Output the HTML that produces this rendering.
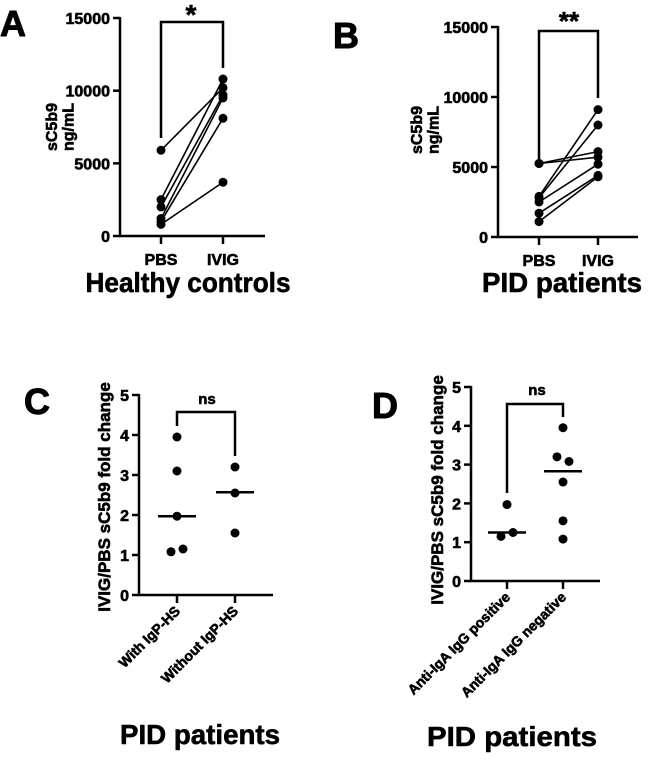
<!DOCTYPE html>
<html><head><meta charset="utf-8">
<style>
html,body{margin:0;padding:0;background:#fff;}
svg{display:block;font-family:"Liberation Sans",Arial,sans-serif;}
text{font-weight:700;fill:#000;}
</style></head>
<body>
<svg id="fig" width="649" height="765" viewBox="0 0 649 765" xmlns="http://www.w3.org/2000/svg">
<g id="root"></g>
</svg>
<script>
// Panel A data (Healthy controls)
const aCategories = ["PBS", "IVIG"];
const aPBS = [5900, 2500, 2000, 1200, 1000, 800];
const aIVIG = [10200, 10800, 9700, 9500, 8100, 3700];
const aTicks = [0, 5000, 10000, 15000];
// Panel B data (PID patients)
const bCategories = ["PBS", "IVIG"];
const bPBS = [5250, 5250, 2900, 2800, 2500, 1700, 1100];
const bIVIG = [6100, 5700, 9100, 8000, 5200, 4400, 4300];
const bTicks = [0, 5000, 10000, 15000];
// Panel C data
const cCategories = ["With IgP-HS", "Without IgP-HS"];
const cGroup1 = [3.95, 3.1, 1.97, 1.15, 1.08];
const cGroup1Jitter = [0, 0, 0, 1, -1];
const cGroup2 = [3.2, 2.55, 1.55];
const cGroup2Jitter = [0, 0, 0];
const cMedians = [1.97, 2.57];
const foldTicks = [0, 1, 2, 3, 4, 5];
// Panel D data
const dCategories = ["Anti-IgA IgG positive", "Anti-IgA IgG negative"];
const dGroup1 = [1.97, 1.25, 1.15];
const dGroup1Jitter = [0, 1, -1];
const dGroup2 = [3.95, 3.2, 3.08, 2.55, 1.55, 1.08];
const dGroup2Jitter = [0, -1, 1, 0, 0, 0];
const dMedians = [1.25, 2.83];

const NS = "http://www.w3.org/2000/svg";
const root = document.getElementById("root");
function mk(tag, attrs, parent) {
  const el = document.createElementNS(NS, tag);
  for (const k in attrs) el.setAttribute(k, attrs[k]);
  (parent || root).appendChild(el);
  return el;
}
function txt(s, attrs, parent) {
  attrs["font-weight"] = "bold";
  attrs["stroke"] = "#000";
  if (!attrs["stroke-width"]) attrs["stroke-width"] = 0.6;
  attrs["stroke-linejoin"] = "round";
  const t = mk("text", attrs, parent); t.textContent = s; return t;
}

function axes(g, p) {
  const ys = v => p.y0 - (v - p.min) / (p.max - p.min) * (p.y0 - p.y1);
  const yAxis = mk("line", {x1:p.x0, y1:p.y1-1, x2:p.x0, y2:p.y0+1, stroke:"#000","stroke-width":2.5}, g);
  
  
  const xAxis = mk("line", {x1:p.x0-1, y1:p.y0, x2:p.xEnd, y2:p.y0, stroke:"#000","stroke-width":2.5}, g);
  
  
  p.ticks.forEach(t => {
    mk("line", {x1:p.x0-7, y1:ys(t), x2:p.x0, y2:ys(t), stroke:"#000","stroke-width":2.5}, g);
    const tl = txt(String(t), {x:p.x0-10, y:ys(t)+6, "text-anchor":"end","font-size":p.tickFont}, g);
    
    
  });
  p.cx.forEach(x => mk("line", {x1:x, y1:p.y0, x2:x, y2:p.y0+8, stroke:"#000","stroke-width":2.5}, g));
  return ys;
}
function dot(g, x, y) {
  const c = mk("circle", {cx:x, cy:y, r:4.5, fill:"#000"}, g);
  
  
}
function bracket(g, xl, xr, top, yl, yr, label, lx, ly, fs) {
  const b = mk("polyline", {points:`${xl},${yl} ${xl},${top} ${xr},${top} ${xr},${yr}`, fill:"none", stroke:"#000","stroke-width":2.5}, g);
  
  
  const t = txt(label, {x:lx, y:ly, "text-anchor":"middle","font-size":fs}, g);
  
  
}
function letter(s, x, y) {
  const t = txt(s, {x:x, y:y, "font-size":36, "stroke-width":1.0});
  
  
}
function title(s, cx, y, w, name) {
  const t = txt(s, {x:cx, y:y, "text-anchor":"middle","font-size":28, "stroke-width":0.6, textLength:w, lengthAdjust:"spacingAndGlyphs"});
  
  
}
function ytitle(lines, cx, cy, fs, name) {
  const t = mk("text", {transform:`translate(${cx},${cy}) rotate(-90)`, "text-anchor":"middle","font-size":fs, "font-weight":"bold", stroke:"#000", "stroke-width":0.6});
  
  
  lines.forEach((l, i) => {
    const ts = mk("tspan", {x:0, dy: i === 0 ? (-(lines.length-1)*fs*0.55 + fs*0.35) : fs*1.05}, t);
    ts.textContent = l;
  });
}

function paired(name, p, pbs, ivig, cats) {
  const g = mk("g", {});
  
  
  const ys = axes(g, p);
  pbs.forEach((v, i) => {
    const l = mk("line", {x1:p.cx[0], y1:ys(v), x2:p.cx[1], y2:ys(ivig[i]), stroke:"#000","stroke-width":1.6}, g);
    
    
  });
  pbs.forEach(v => dot(g, p.cx[0], ys(v)));
  ivig.forEach(v => dot(g, p.cx[1], ys(v)));
  cats.forEach((c, i) => {
    const t = txt(c, {x:p.cx[i], y:p.y0+29, "text-anchor":"middle","font-size":16}, g);
    
    
  });
  return ys;
}
function scatter(name, p, groups, jitters, medians, cats) {
  const g = mk("g", {});
  
  
  const ys = axes(g, p);
  groups.forEach((arr, gi) => {
    arr.forEach((v, i) => dot(g, p.cx[gi] + jitters[gi][i]*6, ys(v)));
    const m = mk("line", {x1:p.cx[gi]-19, y1:ys(medians[gi]), x2:p.cx[gi]+19, y2:ys(medians[gi]), stroke:"#000","stroke-width":2.5}, g);
    
    
  });
  cats.forEach((c, i) => {
    const t = txt(c, {transform:`translate(${p.cx[i]+4},${p.y0+17}) rotate(-45)`, "text-anchor":"end","font-size":14}, g);
    
    
  });
  return ys;
}

// Panel A
const pA = {x0:120, xEnd:265, y0:236, y1:18, min:0, max:15000, ticks:aTicks, cx:[161,223], tickFont:16};
paired("panel-a-chart", pA, aPBS, aIVIG, aCategories);
bracket(root, 161, 223, 22, 138, 68, "*", 191, 24, 28);
letter("A", 0, 36);
ytitle(["sC5b9", "ng/mL"], 60, 127, 16, "y-axis-title-a");
title("Healthy controls", 188, 292, 205, "title-healthy-controls");

// Panel B
const pB = {x0:498, xEnd:638, y0:237, y1:27, min:0, max:15000, ticks:bTicks, cx:[539,598], tickFont:16};
paired("panel-b-chart", pB, bPBS, bIVIG, bCategories);
bracket(root, 539, 598, 31, 160, 98, "**", 569, 30, 26);
letter("B", 333, 48);
ytitle(["sC5b9", "ng/mL"], 425, 130, 16, "y-axis-title-b");
title("PID patients", 562, 292, 160, "title-pid-patients-b");

// Panel C
const pC = {x0:139, xEnd:273, y0:595, y1:395, min:0, max:5, ticks:foldTicks, cx:[177,235], tickFont:16};
scatter("panel-c-chart", pC, [cGroup1, cGroup2], [cGroup1Jitter, cGroup2Jitter], cMedians, cCategories);
bracket(root, 177, 235, 412, 426, 456, "ns", 207, 404, 15);
letter("C", 24, 414);
ytitle(["IVIG/PBS sC5b9 fold change"], 104, 497, 17, "y-axis-title-c");
title("PID patients", 200, 744, 160, "title-pid-patients-c");

// Panel D
const pD = {x0:471, xEnd:600, y0:581, y1:387, min:0, max:5, ticks:foldTicks, cx:[507,563], tickFont:16};
scatter("panel-d-chart", pD, [dGroup1, dGroup2], [dGroup1Jitter, dGroup2Jitter], dMedians, dCategories);
bracket(root, 507, 563, 404, 493, 417, "ns", 537, 395, 15);
letter("D", 372, 418);
ytitle(["IVIG/PBS sC5b9 fold change"], 437, 490, 17, "y-axis-title-d");
title("PID patients", 512, 746, 170, "title-pid-patients-d");
</script>
</body></html>
